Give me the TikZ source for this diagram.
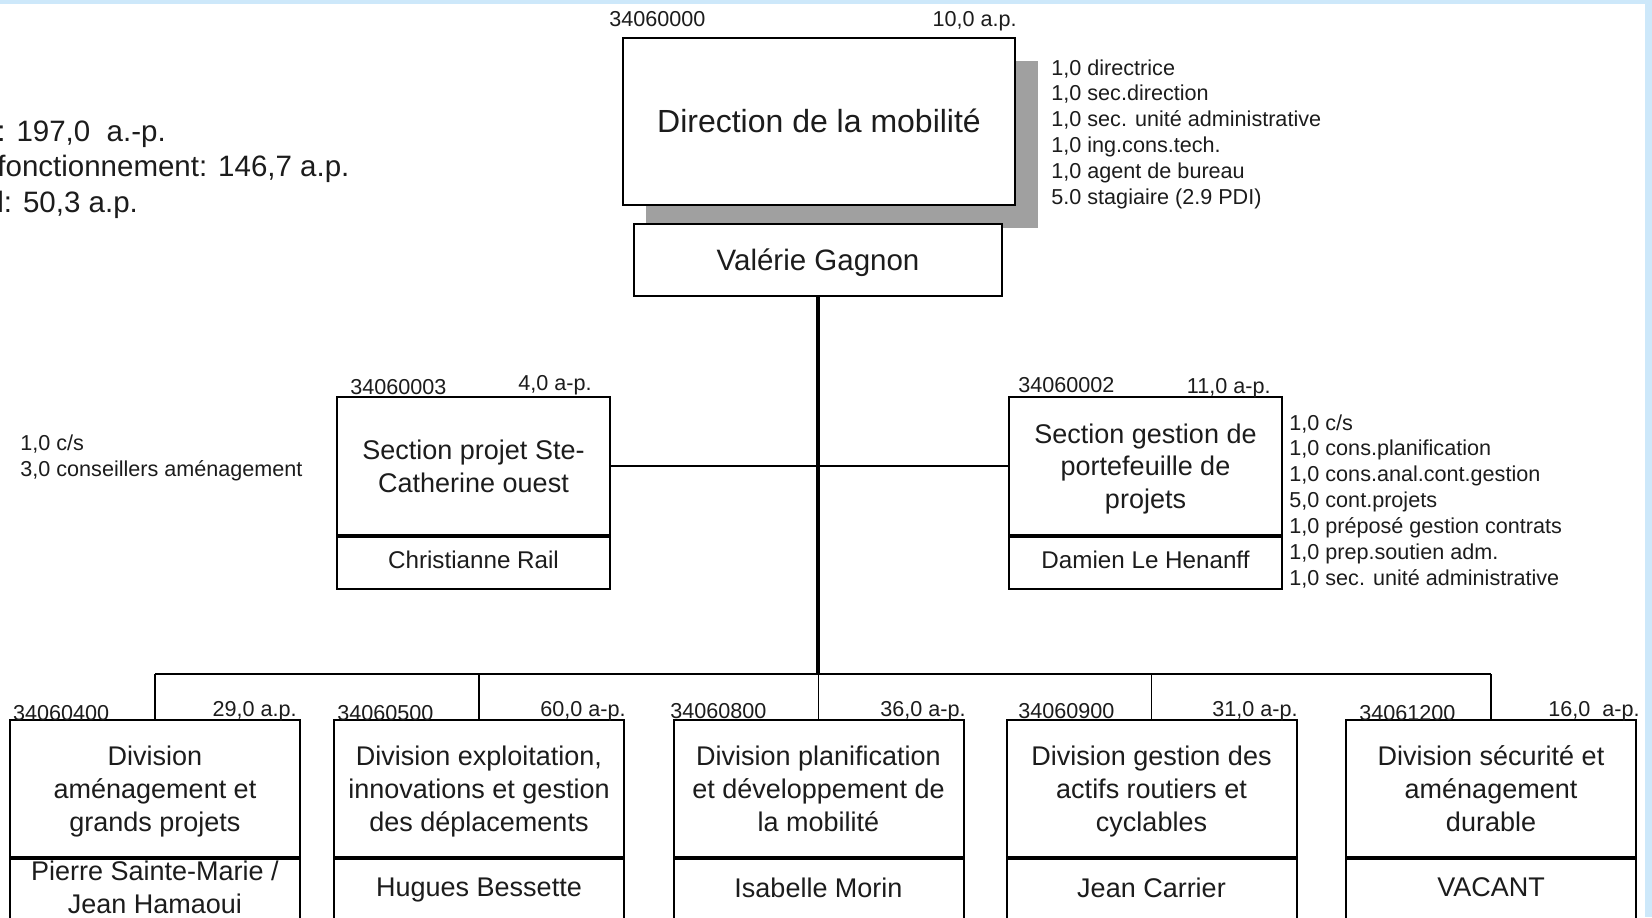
\documentclass[tikz,border=0pt]{standalone}
\usepackage{fontspec}
\setmainfont{Liberation Sans}
\usetikzlibrary{shadows}
\definecolor{framecol}{RGB}{205,232,250}
\definecolor{shadowgray}{RGB}{160,160,160}
\definecolor{txt}{RGB}{28,28,28}
\begin{document}
\begin{tikzpicture}[x=0.5pt,y=-0.5pt,
  box/.style={draw=black, line width=1pt, fill=white, inner sep=0pt, align=center, text=txt,
    font=\fontsize{13.5}{16.35}\selectfont},
  divtop/.style={box, minimum width=145pt, minimum height=68.5pt, text depth=0pt},
  divname/.style={box, minimum width=145pt, minimum height=31.5pt, anchor=north, text depth=3pt},
  sectop/.style={box, minimum width=136.5pt, minimum height=69pt, text depth=0pt},
  secname/.style={box, minimum width=136.5pt, minimum height=26pt, anchor=north, text depth=3pt,
    font=\fontsize{12.1}{14.5}\selectfont},
  lbl/.style={inner sep=0pt, text=txt, font=\fontsize{10.8}{12.95}\selectfont},
  trunk/.style={line width=2pt},
  busline/.style={line width=1.4pt},
  drop/.style={line width=0.9pt},
  hline/.style={line width=1pt}
]
\useasboundingbox (0,0) rectangle (1652,917);
\clip (0,0) rectangle (1652,917);
\fill[white] (0,0) rectangle (1652,917);

% summary text (cut at left edge)
\node[inner sep=0pt, text=txt, anchor=north west, align=left,
  font=\fontsize{14.75}{17.9}\selectfont] (summary) at (-3,120)
  {: 197,0\ \ a.-p.\\fonctionnement: 146,7 a.p.\\l: 50,3 a.p.};

% direction
\node[box, minimum width=196pt, minimum height=83.5pt, font=\fontsize{16}{19}\selectfont,
  drop shadow={shadow xshift=11.5pt, shadow yshift=-11.5pt, fill=shadowgray, opacity=1}]
  (dir) at (819,121) {Direction de la mobilité};
\node[box, minimum width=184pt, minimum height=36pt, text depth=0pt, font=\fontsize{14.75}{17.7}\selectfont]
  (val) at (818,259.5) {Valérie Gagnon};
\node[lbl, anchor=base west] (c0) at (609,26) {34060000};
\node[lbl, anchor=base east] (v0) at (1017,26) {10,0 a.p.};
\node[lbl, anchor=north west, align=left] (s0) at (1051,59)
  {1,0 directrice\\1,0 sec.direction\\1,0 sec. unité administrative\\1,0 ing.cons.tech.\\1,0 agent de bureau\\5.0 stagiaire (2.9 PDI)};

% sections
\node[sectop] (ste) at (473.5,466) {Section projet Ste-\\Catherine ouest};
\node[secname] (sten) at (ste.south) {Christianne Rail};
\node[lbl, anchor=base west] (c1) at (350,394) {34060003};
\node[lbl, anchor=base east] (v1) at (592,390) {4,0 a-p.};
\node[lbl, anchor=north west, align=left] (s1) at (20,434.5)
  {1,0 c/s\\3,0 conseillers aménagement};

\node[sectop] (gest) at (1145.5,466) {Section gestion de\\portefeuille de\\projets};
\node[secname] (gestn) at (gest.south) {Damien Le Henanff};
\node[lbl, anchor=base west] (c2) at (1018,392) {34060002};
\node[lbl, anchor=base east] (v2) at (1271,393) {11,0 a-p.};
\node[lbl, anchor=north west, align=left] (s2) at (1289,414)
  {1,0 c/s\\1,0 cons.planification\\1,0 cons.anal.cont.gestion\\5,0 cont.projets\\1,0 préposé gestion contrats\\1,0 prep.soutien adm.\\1,0 sec. unité administrative};

% divisions
\node[divtop] (d1) at (155,788.5) {Division\\aménagement et\\grands projets};
\node[divname] (d1n) at (d1.south) {Pierre Sainte-Marie /\\Jean Hamaoui};
\node[divtop] (d2) at (479,788.5) {Division exploitation,\\innovations et gestion\\des déplacements};
\node[divname] (d2n) at (d2.south) {Hugues Bessette};
\node[divtop] (d3) at (818.5,788.5) {Division planification\\et développement de\\la mobilité};
\node[divname] (d3n) at (d3.south) {Isabelle Morin};
\node[divtop] (d4) at (1151.5,788.5) {Division gestion des\\actifs routiers et\\cyclables};
\node[divname] (d4n) at (d4.south) {Jean Carrier};
\node[divtop] (d5) at (1491,788.5) {Division sécurité et\\aménagement\\durable};
\node[divname] (d5n) at (d5.south) {VACANT};

\node[lbl, anchor=base west] (c3) at (12.6,720) {34060400};
\node[lbl, anchor=base east] (v3) at (297,716) {29,0 a.p.};
\node[lbl, anchor=base west] (c4) at (337,720) {34060500};
\node[lbl, anchor=base east] (v4) at (626,716) {60,0 a-p.};
\node[lbl, anchor=base west] (c5) at (670,718) {34060800};
\node[lbl, anchor=base east] (v5) at (966,716) {36,0 a-p.};
\node[lbl, anchor=base west] (c6) at (1018,718) {34060900};
\node[lbl, anchor=base east] (v6) at (1298,716) {31,0 a-p.};
\node[lbl, anchor=base west] (c7) at (1359,720) {34061200};
\node[lbl, anchor=base east] (v7) at (1640,716) {16,0\ \ a-p.};

% connectors
\coordinate (bus) at (819,674);
\draw[hline] (ste.east) -- (gest.west);
\draw[trunk] (val.south) -- (val.south |- bus);
\draw[busline] (d1.north |- bus) -- (d5.north |- bus);
\foreach \d in {d1,d2,d3,d4,d5} {\draw[drop] (\d.north |- bus) -- (\d.north);}

% frame
\fill[framecol] (0,0) rectangle (1652,4);
\fill[framecol] (1645,0) rectangle (1652,917);
\end{tikzpicture}
\end{document}
